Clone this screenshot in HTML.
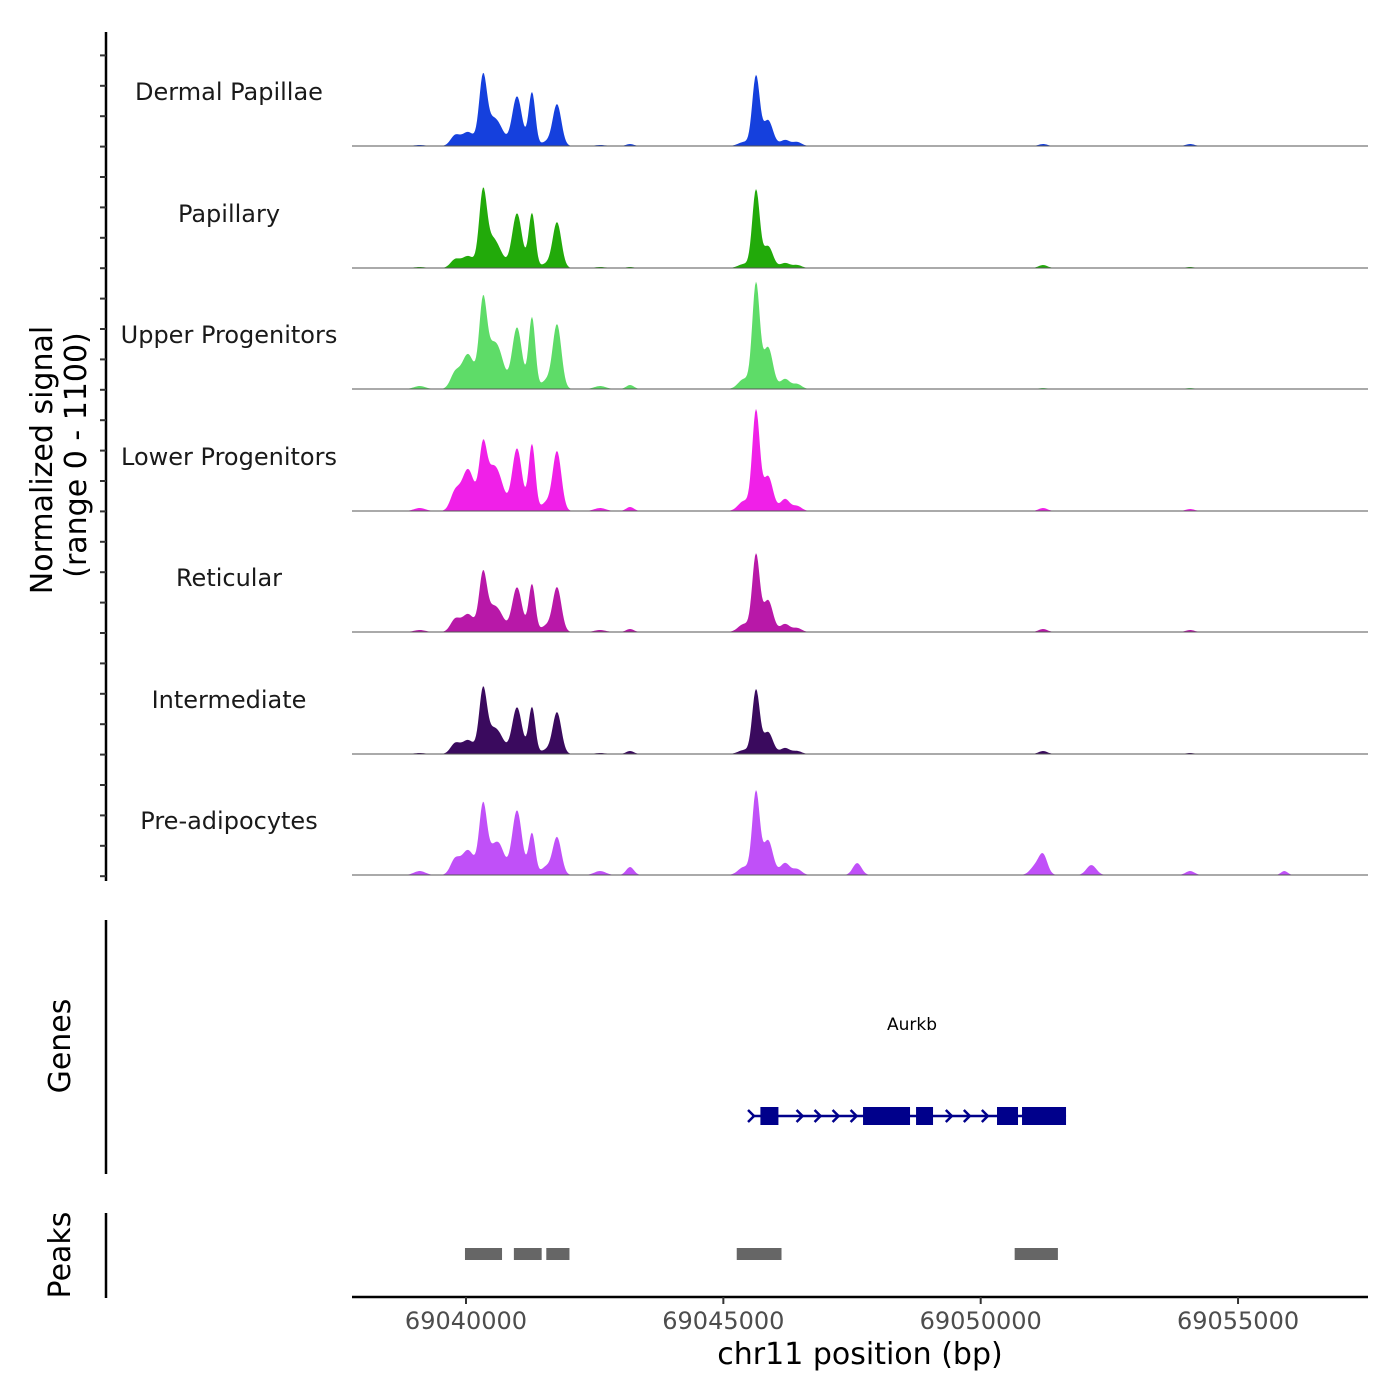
<!DOCTYPE html>
<html><head><meta charset="utf-8"><style>
body{margin:0;background:#fff;}
svg{display:block;font-family:"DejaVu Sans","Liberation Sans",sans-serif;}
</style></head><body>
<svg id="chart" width="1400" height="1400" viewBox="0 0 1400 1400" xmlns="http://www.w3.org/2000/svg">
<g id="tracks"></g>
<g id="axes"></g>
<g id="genes"></g>
<g id="peaks"></g>
</svg>
<script>
const trackNames = ["Dermal Papillae","Papillary","Upper Progenitors","Lower Progenitors","Reticular","Intermediate","Pre-adipocytes"];
const trackColors = ["#1540dd","#22aa0a","#5edc68","#f020e8","#b818a8","#3a0a5e","#c050f8"];
const peakCenters = [69039100,69039786,69040039,69040330,69040505,69040661,69040991,69041282,69041550,69041768,69042604,69043187,69045400,69045634,69045868,69046198,69046431,69047600,69051050,69051211,69052150,69054068,69055900];
const peakWidths = [110,90,120,75,100,100,95,65,90,85,110,75,110,72,95,90,90,85,95,85,95,85,65];
const hDermal = [9,90,126,612,198,135,450,486,36,378,9,18,36,630,234,54,36,0,0,18,0,18,0];
const hPapillary = [9,72,108,675,225,108,495,495,36,414,9,9,36,702,198,45,27,0,0,27,0,9,0];
const hUpper = [27,135,315,765,315,252,558,648,72,585,27,36,90,945,378,90,45,0,0,9,0,9,0];
const hLower = [27,162,378,558,315,225,567,603,72,540,27,36,90,900,315,108,45,0,0,27,0,18,0];
const hReticular = [18,108,162,513,180,135,405,432,54,405,18,27,72,693,288,72,36,0,0,27,0,18,0];
const hIntermediate = [9,90,126,567,180,135,423,423,36,378,9,27,36,576,198,54,27,0,0,27,0,9,0];
const hPre = [36,135,225,612,180,225,585,378,72,342,36,72,72,747,315,108,54,108,72,180,90,36,36];
const trackHeights = [hDermal,hPapillary,hUpper,hLower,hReticular,hIntermediate,hPre];
const xTicks = [69040000,69045000,69050000,69055000];
const geneName = "Aurkb";
const geneStart = 69045557, geneEnd = 69051658;
const exonStarts = [69045720,69047714,69048744,69050317,69050803];
const exonEnds = [69046070,69048627,69049074,69050725,69051658];
const arrowPos = [69046500,69046850,69047200,69047550,69049400,69049750,69050100];
const peakStarts = [69039980,69040930,69041560,69045260,69050660];
const peakEnds = [69040700,69041470,69042010,69046130,69051500];
const yMax = 1100;

const NS="http://www.w3.org/2000/svg";
const px0=352, px1=1368, bp0=69037785, bp1=69057525;
function xs(bp){return px0+(bp-bp0)/(bp1-bp0)*(px1-px0);}
const baselines=[146,268,389,511,632,754,875];
const trackH=121.5;
function ys(v,b){return b-v/yMax*trackH;}
function mk(tag,attrs,parent){const e=document.createElementNS(NS,tag);for(const k in attrs)e.setAttribute(k,attrs[k]);parent.appendChild(e);return e;}

const tg=document.getElementById('tracks');
trackNames.forEach((nm,i)=>{
  const b=baselines[i];
  const g=mk('g',{},tg);
  
  
  let d='M'+px0+' '+b;
  for(let x=px0;x<=px1;x+=1){
    const bp=bp0+(x-px0)/(px1-px0)*(bp1-bp0);
    let v=0;
    for(let k=0;k<peakCenters.length;k++){const z=(bp-peakCenters[k])/peakWidths[k];v+=trackHeights[i][k]*Math.exp(-0.5*z*z);}
    d+=' L'+x+' '+ys(v,b).toFixed(2);
  }
  d+=' L'+px1+' '+b+' Z';
  const p=mk('path',{d:d,fill:trackColors[i]},g);
  
  
  const l=mk('line',{x1:px0,x2:px1,y1:b,y2:b,stroke:'#555','stroke-width':1},g);
  
  
  const t=mk('text',{x:229,y:b-46,'text-anchor':'middle','font-size':24,fill:'#1a1a1a'},g);
  t.textContent=nm;
  
  
});

const ax=document.getElementById('axes');
mk('line',{x1:106,x2:106,y1:32,y2:881,stroke:'#000','stroke-width':2.5},ax);
for(let i=0;i<28;i++){const y=55.4+i*30.4;mk('line',{x1:100,x2:106,y1:y,y2:y,stroke:'#333','stroke-width':2},ax);}
const yt=mk('text',{transform:'translate(52,460) rotate(-90)','text-anchor':'middle','font-size':30,fill:'#000'},ax);
yt.textContent='Normalized signal';


const yt2=mk('text',{transform:'translate(86,455) rotate(-90)','text-anchor':'middle','font-size':30,fill:'#000'},ax);
yt2.textContent='(range 0 - 1100)';


mk('line',{x1:106,x2:106,y1:920,y2:1174,stroke:'#000','stroke-width':2.5},ax);
const gt=mk('text',{transform:'translate(70,1046) rotate(-90)','text-anchor':'middle','font-size':30,fill:'#000'},ax);
gt.textContent='Genes';


mk('line',{x1:106,x2:106,y1:1213,y2:1298,stroke:'#000','stroke-width':2.5},ax);
const pt=mk('text',{transform:'translate(70,1255) rotate(-90)','text-anchor':'middle','font-size':30,fill:'#000'},ax);
pt.textContent='Peaks';


mk('line',{x1:px0,x2:px1,y1:1297,y2:1297,stroke:'#000','stroke-width':2.5},ax);
xTicks.forEach(t=>{
  const x=xs(t);
  mk('line',{x1:x,x2:x,y1:1297,y2:1304,stroke:'#333','stroke-width':2},ax);
  const tx=mk('text',{x:x,y:1329,'text-anchor':'middle','font-size':24,fill:'#4d4d4d'},ax);
  tx.textContent=String(t);
  
  
});
const xt=mk('text',{x:860,y:1364,'text-anchor':'middle','font-size':30,fill:'#000'},ax);
xt.textContent='chr11 position (bp)';



const gg=document.getElementById('genes');
const gy=1116;
mk('line',{x1:xs(geneStart),x2:xs(geneEnd),y1:gy,y2:gy,stroke:'#00008b','stroke-width':2.5},gg);
[geneStart].concat(arrowPos).forEach(a=>{const x=xs(a);mk('polyline',{points:(x-4)+','+(gy-6)+' '+(x+2)+','+gy+' '+(x-4)+','+(gy+6),fill:'none',stroke:'#00008b','stroke-width':2.5},gg);});
exonStarts.forEach((s,i)=>{
  const r=mk('rect',{x:xs(s),y:gy-9,width:xs(exonEnds[i])-xs(s),height:18,fill:'#00008b'},gg);
  
  
});
const gl=mk('text',{x:912,y:1030,'text-anchor':'middle','font-size':17,fill:'#000'},gg);
gl.textContent=geneName;



const pg=document.getElementById('peaks');
peakStarts.forEach((s,i)=>{
  const r=mk('rect',{x:xs(s),y:1248,width:xs(peakEnds[i])-xs(s),height:12,fill:'#666'},pg);
  
  
});
</script>
</body></html>
